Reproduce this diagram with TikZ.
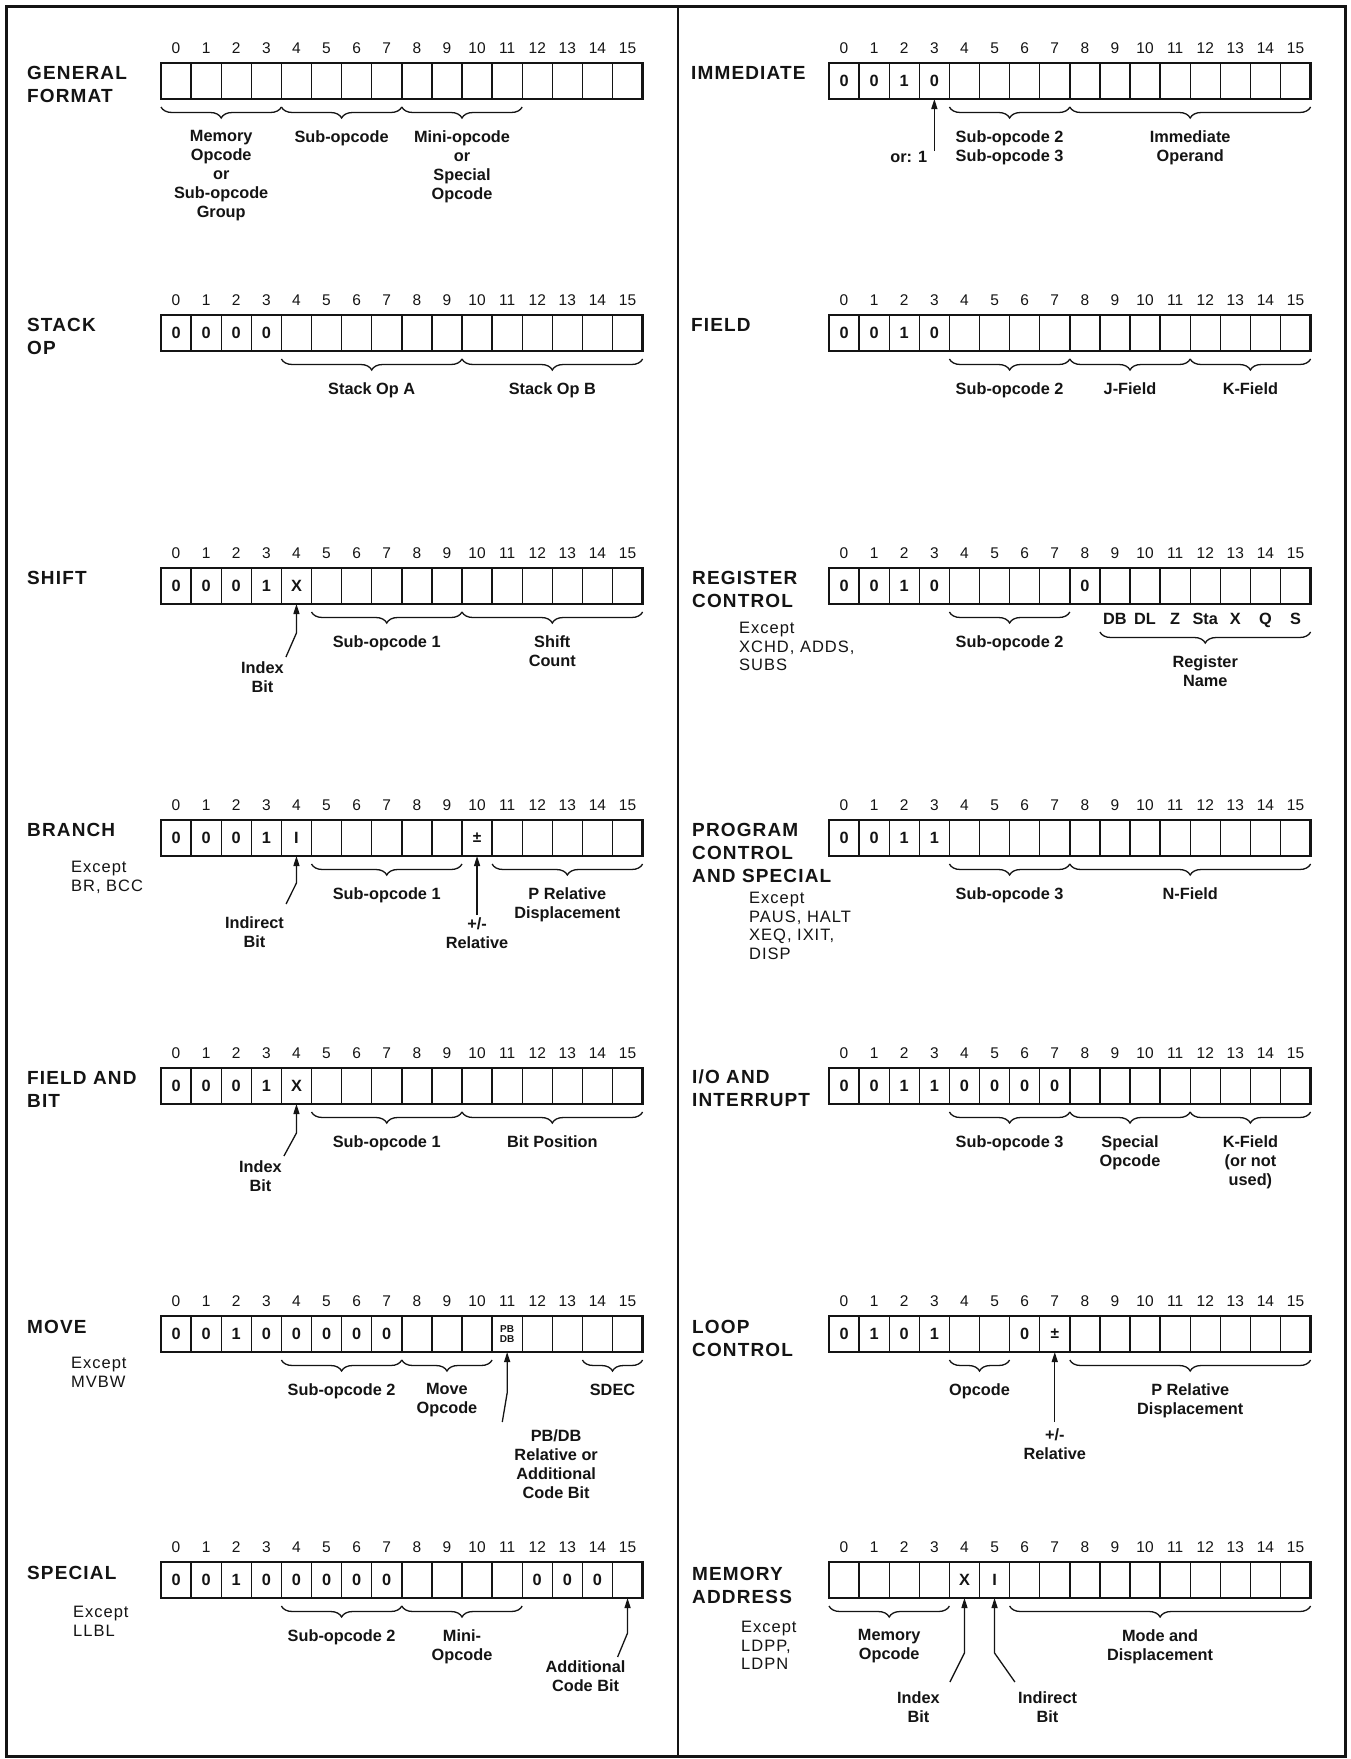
\documentclass[tikz,border=0pt]{standalone}
\usepackage{fontspec}
\setmainfont{Liberation Sans}
\newfontfamily\hpwide[LetterSpace=6]{Liberation Sans}
\usetikzlibrary{decorations.pathreplacing, arrows.meta, positioning, calc}
\definecolor{ink}{HTML}{141414}
\newcommand\fmtfont{\hpwide\bfseries\fontsize{19}{23}\selectfont}
\newcommand\notefont{\hpwide\fontsize{16.5}{18.5}\selectfont}
\newcommand\partfont{\bfseries\fontsize{16.3}{19}\selectfont}
\newcommand\bitfont{\fontsize{15.5}{18}\selectfont}
\newcommand\cellfont{\bfseries\fontsize{16.3}{18}\selectfont}
\newcommand\pbfont{\bfseries\fontsize{10}{10}\selectfont}
\tikzset{
  cell/.style={draw=ink, line width=1.4pt, minimum width=30.1pt, minimum height=36pt, inner sep=0pt, outer sep=0pt, anchor=north west, text=ink, font=\cellfont},
  bitno/.style={inner sep=0pt, text=ink, font=\bitfont},
  fmt/.style={anchor=north west, align=left, inner sep=0pt, text=ink, font=\fmtfont},
  note/.style={anchor=north west, align=left, inner sep=0pt, text=ink, font=\notefont},
  part/.style={align=center, inner sep=0pt, text=ink, font=\partfont},
  brc/.style={draw=ink, line width=1.3pt, decorate, decoration={brace, mirror, amplitude=11pt}},
  ptr/.style={draw=ink, line width=1.3pt, -{Triangle[length=10pt, width=6pt]}},
}
\newcommand\wordrow[4]{%
  \foreach \v [count=\i from 0] in {#4}{%
    \node[cell] (#1-\i) at ({#2+\i*30.1},#3) {\v};
    \node[bitno, above=9.5pt of #1-\i.north] (#1-n\i) {\i};}
  \draw[ink, line width=2.8pt] (#1-0.north west) rectangle (#1-15.south east);}
\newcommand\fieldbrace[5]{%
  \draw[brc] ([yshift=-8pt]#1-#2.south west) -- ([yshift=-8pt]#1-#3.south east)
    node[part, midway, below=23pt] (#4) {#5};}

\begin{document}
\begin{tikzpicture}[x=1pt, y=-1pt]
  \useasboundingbox (0,0) rectangle (1351,1759);
  \fill[white] (0,0) rectangle (1351,1759);
  \draw[ink, line width=3pt] (6,6) rectangle (1345,1756);
  \draw[ink, line width=2.5pt] (678,6) -- (678,1756);

  \wordrow{gf}{161}{63}{{},{},{},{},{},{},{},{},{},{},{},{},{},{},{},{}}
  \node[fmt] (gf-t) at (27,66) {GENERAL\\FORMAT};
  \fieldbrace{gf}{0}{3}{gf-a}{Memory\\Opcode\\or\\Sub-opcode\\Group}
  \fieldbrace{gf}{4}{7}{gf-b}{Sub-opcode}
  \fieldbrace{gf}{8}{11}{gf-c}{Mini-opcode\\or\\Special\\Opcode}

  \wordrow{so}{161}{315}{0,0,0,0,{},{},{},{},{},{},{},{},{},{},{},{}}
  \node[fmt] (so-t) at (27,318) {STACK\\OP};
  \fieldbrace{so}{4}{9}{so-a}{Stack Op A}
  \fieldbrace{so}{10}{15}{so-b}{Stack Op B}

  \wordrow{sh}{161}{568}{0,0,0,1,X,{},{},{},{},{},{},{},{},{},{},{}}
  \node[fmt] (sh-t) at (27,571) {SHIFT};
  \fieldbrace{sh}{5}{9}{sh-a}{Sub-opcode 1}
  \fieldbrace{sh}{10}{15}{sh-b}{Shift\\Count}
  \node[part, anchor=north] (sh-idx) at ([xshift=-34pt, yshift=-57pt]sh-4.south) {Index\\Bit};
  \coordinate (sh-kink) at ([yshift=-29pt]sh-4.south);
  \draw[ptr] ([shift={(2pt,4pt)}]sh-idx.north east) -- (sh-kink) -- (sh-4.south);

  \wordrow{br}{161}{820}{0,0,0,1,I,{},{},{},{},{},{\bitfont ±},{},{},{},{},{}}
  \node[fmt] (br-t) at (27,823) {BRANCH};
  \node[note] (br-x) at (71,861) {Except\\BR, BCC};
  \fieldbrace{br}{5}{9}{br-a}{Sub-opcode 1}
  \fieldbrace{br}{11}{15}{br-b}{P Relative\\Displacement}
  \node[part, anchor=north] (br-ind) at ([xshift=-42pt, yshift=-60pt]br-4.south) {Indirect\\Bit};
  \coordinate (br-kink) at ([yshift=-27pt]br-4.south);
  \draw[ptr] ([shift={(2pt,12pt)}]br-ind.north east) -- (br-kink) -- (br-4.south);
  \node[part, anchor=north] (br-rel) at ([yshift=-61pt]br-10.south) {+/-\\Relative};
  \draw[ptr, shorten <=2pt] (br-rel.north) -- (br-10.south);

  \wordrow{fb}{161}{1068}{0,0,0,1,X,{},{},{},{},{},{},{},{},{},{},{}}
  \node[fmt] (fb-t) at (27,1071) {FIELD AND\\BIT};
  \fieldbrace{fb}{5}{9}{fb-a}{Sub-opcode 1}
  \fieldbrace{fb}{10}{15}{fb-b}{Bit Position}
  \node[part, anchor=north] (fb-idx) at ([xshift=-36pt, yshift=-56pt]fb-4.south) {Index\\Bit};
  \coordinate (fb-kink) at ([yshift=-29pt]fb-4.south);
  \draw[ptr] ([shift={(2pt,4pt)}]fb-idx.north east) -- (fb-kink) -- (fb-4.south);

  \wordrow{mv}{161}{1316}{0,0,1,0,0,0,0,0,{},{},{},{\pbfont\shortstack{PB\\DB}},{},{},{},{}}
  \node[fmt] (mv-t) at (27,1320) {MOVE};
  \node[note] (mv-x) at (71,1357) {Except\\MVBW};
  \fieldbrace{mv}{4}{7}{mv-a}{Sub-opcode 2}
  \fieldbrace{mv}{8}{10}{mv-b}{Move\\Opcode}
  \fieldbrace{mv}{14}{15}{mv-c}{SDEC}
  \node[part, anchor=north] (mv-pb) at ([xshift=49pt, yshift=-77pt]mv-11.south) {PB/DB\\Relative or\\Additional\\Code Bit};
  \coordinate (mv-kink) at ([yshift=-41pt]mv-11.south);
  \draw[ptr] ([shift={(-12pt,7pt)}]mv-pb.north west) -- (mv-kink) -- (mv-11.south);

  \wordrow{sp}{161}{1562}{0,0,1,0,0,0,0,0,{},{},{},{},0,0,0,{}}
  \node[fmt] (sp-t) at (27,1566) {SPECIAL};
  \node[note] (sp-x) at (73,1606) {Except\\LLBL};
  \fieldbrace{sp}{4}{7}{sp-a}{Sub-opcode 2}
  \fieldbrace{sp}{8}{11}{sp-b}{Mini-\\Opcode}
  \node[part, anchor=north] (sp-add) at ([xshift=-42pt, yshift=-62pt]sp-15.south) {Additional\\Code Bit};
  \coordinate (sp-kink) at ([yshift=-35pt]sp-15.south);
  \draw[ptr] ([shift={(-8pt,3pt)}]sp-add.north east) -- (sp-kink) -- (sp-15.south);

  \wordrow{im}{829}{63}{0,0,1,0,{},{},{},{},{},{},{},{},{},{},{},{}}
  \node[fmt] (im-t) at (691,66) {IMMEDIATE};
  \fieldbrace{im}{4}{7}{im-a}{Sub-opcode 2\\Sub-opcode 3}
  \fieldbrace{im}{8}{15}{im-b}{Immediate\\Operand}
  \node[part, anchor=north east] (im-or) at ([xshift=-7pt, yshift=-52pt]im-3.south) {or: 1};
  \draw[ptr] (im-3.south |- im-or.north) -- (im-3.south);

  \wordrow{fd}{829}{315}{0,0,1,0,{},{},{},{},{},{},{},{},{},{},{},{}}
  \node[fmt] (fd-t) at (691,318) {FIELD};
  \fieldbrace{fd}{4}{7}{fd-a}{Sub-opcode 2}
  \fieldbrace{fd}{8}{11}{fd-b}{J-Field}
  \fieldbrace{fd}{12}{15}{fd-c}{K-Field}

  \wordrow{rc}{829}{568}{0,0,1,0,{},{},{},{},0,{},{},{},{},{},{},{}}
  \node[fmt] (rc-t) at (692,571) {REGISTER\\CONTROL};
  \node[note] (rc-x) at (739,622) {Except\\XCHD, ADDS,\\SUBS};
  \fieldbrace{rc}{4}{7}{rc-a}{Sub-opcode 2}
  \foreach \r [count=\i from 9] in {DB,DL,Z,Sta,X,Q,S}
    \node[part, below=9pt of rc-\i.south] (rc-r\i) {\r};
  \draw[brc] ([yshift=-28pt]rc-9.south west) -- ([yshift=-28pt]rc-15.south east)
    node[part, midway, below=23pt] (rc-b) {Register\\Name};

  \wordrow{pc}{829}{820}{0,0,1,1,{},{},{},{},{},{},{},{},{},{},{},{}}
  \node[fmt] (pc-t) at (692,823) {PROGRAM\\CONTROL\\AND SPECIAL};
  \node[note] (pc-x) at (749,892) {Except\\PAUS, HALT\\XEQ, IXIT,\\DISP};
  \fieldbrace{pc}{4}{7}{pc-a}{Sub-opcode 3}
  \fieldbrace{pc}{8}{15}{pc-b}{N-Field}

  \wordrow{io}{829}{1068}{0,0,1,1,0,0,0,0,{},{},{},{},{},{},{},{}}
  \node[fmt] (io-t) at (692,1070) {I/O AND\\INTERRUPT};
  \fieldbrace{io}{4}{7}{io-a}{Sub-opcode 3}
  \fieldbrace{io}{8}{11}{io-b}{Special\\Opcode}
  \fieldbrace{io}{12}{15}{io-c}{K-Field\\(or not\\used)}

  \wordrow{lc}{829}{1316}{0,1,0,1,{},{},0,{\bitfont ±},{},{},{},{},{},{},{},{}}
  \node[fmt] (lc-t) at (692,1320) {LOOP\\CONTROL};
  \fieldbrace{lc}{4}{5}{lc-a}{Opcode}
  \fieldbrace{lc}{8}{15}{lc-b}{P Relative\\Displacement}
  \node[part, anchor=north] (lc-rel) at ([yshift=-76pt]lc-7.south) {+/-\\Relative};
  \draw[ptr, shorten <=6pt] (lc-rel.north) -- (lc-7.south);

  \wordrow{ma}{829}{1562}{{},{},{},{},X,I,{},{},{},{},{},{},{},{},{},{}}
  \node[fmt] (ma-t) at (692,1567) {MEMORY\\ADDRESS};
  \node[note] (ma-x) at (741,1621) {Except\\LDPP,\\LDPN};
  \fieldbrace{ma}{0}{3}{ma-a}{Memory\\Opcode}
  \fieldbrace{ma}{6}{15}{ma-b}{Mode and\\Displacement}
  \node[part, anchor=north] (ma-idx) at ([xshift=-46pt, yshift=-93pt]ma-4.south) {Index\\Bit};
  \coordinate (ma-kink4) at ([yshift=-55pt]ma-4.south);
  \draw[ptr] ([shift={(10pt,9pt)}]ma-idx.north east) -- (ma-kink4) -- (ma-4.south);
  \node[part, anchor=north] (ma-ind) at ([xshift=53pt, yshift=-93pt]ma-5.south) {Indirect\\Bit};
  \coordinate (ma-kink5) at ([yshift=-55pt]ma-5.south);
  \draw[ptr] ([shift={(-3pt,9pt)}]ma-ind.north west) -- (ma-kink5) -- (ma-5.south);
\end{tikzpicture}
\end{document}
